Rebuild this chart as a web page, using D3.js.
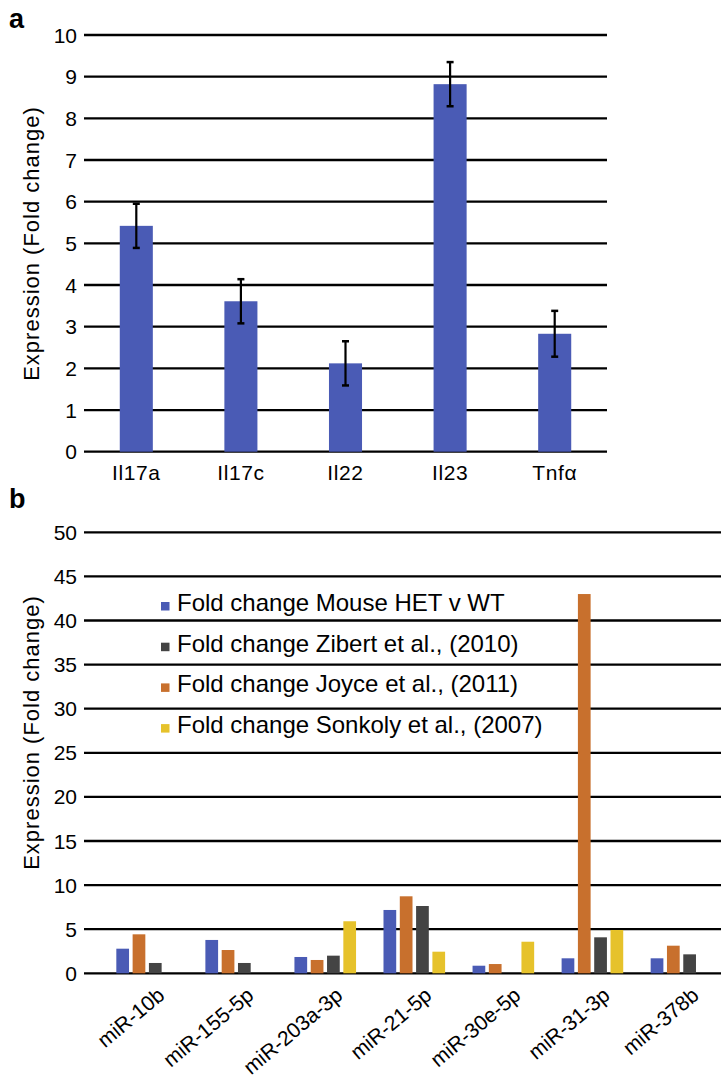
<!DOCTYPE html>
<html>
<head>
<meta charset="utf-8">
<script src="https://d3js.org/d3.v7.min.js"></script>
<style>
  body { margin: 0; background: #fff; }
  svg { font-family: "Liberation Sans", Arial, sans-serif; }
</style>
</head>
<body>
<svg id="fig" width="721" height="1081"></svg>
<script>
// panel a
var genes = ["Il17a", "Il17c", "Il22", "Il23", "Tnfα"]
var geneValues = [5.42, 3.61, 2.12, 8.82, 2.83]
var geneErrors = [0.53, 0.53, 0.53, 0.53, 0.55]
var aTicks = [0, 1, 2, 3, 4, 5, 6, 7, 8, 9, 10]

// panel b
var mirnas = ["miR-10b", "miR-155-5p", "miR-203a-3p", "miR-21-5p", "miR-30e-5p", "miR-31-3p", "miR-378b"]
var mouseHet = [2.79, 3.78, 1.85, 7.18, 0.86, 1.70, 1.70]
var joyce    = [4.42, 2.64, 1.51, 8.73, 1.05, 43.0, 3.13]
var zibert   = [1.17, 1.17, 2.00, 7.63, 0,    4.08, 2.15]
var sonkoly  = [0,    0,    5.90, 2.45, 3.58, 4.91, 0]
var bTicks = [0, 5, 10, 15, 20, 25, 30, 35, 40, 45, 50]

var seriesNames = ["Fold change Mouse HET v WT", "Fold change Joyce et al., (2011)", "Fold change Zibert et al., (2010)", "Fold change Sonkoly et al., (2007)"]
var seriesValues = [mouseHet, joyce, zibert, sonkoly]
var seriesColors = ["#4a5bb5", "#c8702d", "#444444", "#e6c22b"]
var legendOrder = [0, 2, 1, 3]

var svg = d3.select("#fig")

// ---------- panel a ----------
var ax = d3.scaleBand().domain(genes).range([84, 607]).paddingInner(0.684).paddingOuter(0.342)
var ay = d3.scaleLinear().domain([0, 10]).range([451.7, 35])

var ga = svg.append("g")
ga.selectAll(".grid").data(aTicks).enter().append("line")
  .attr("x1", 84).attr("x2", 607)
  .attr("y1", function(d) { return ay(d) }).attr("y2", function(d) { return ay(d) })
  .attr("stroke", "#000").attr("stroke-width", 2.3)

ga.selectAll(".tick").data(aTicks).enter().append("text")
  .attr("x", 77).attr("y", function(d) { return ay(d) })
  .attr("dy", "0.36em").attr("text-anchor", "end")
  .attr("font-size", 21).text(function(d) { return d })

ga.selectAll(".bar").data(genes).enter().append("rect")
  .attr("x", function(d) { return ax(d) })
  .attr("width", ax.bandwidth())
  .attr("y", function(d, i) { return ay(geneValues[i]) })
  .attr("height", function(d, i) { return ay(0) - ay(geneValues[i]) })
  .attr("fill", "#4a5bb5")

var err = ga.selectAll(".err").data(genes).enter().append("g")
err.append("line")
  .attr("x1", function(d) { return ax(d) + ax.bandwidth() / 2 })
  .attr("x2", function(d) { return ax(d) + ax.bandwidth() / 2 })
  .attr("y1", function(d, i) { return ay(geneValues[i] + geneErrors[i]) })
  .attr("y2", function(d, i) { return ay(geneValues[i] - geneErrors[i]) })
  .attr("stroke", "#000").attr("stroke-width", 2.2)
err.selectAll(".cap").data(function(d, i) { return [[d, geneValues[i] + geneErrors[i]], [d, geneValues[i] - geneErrors[i]]] })
  .enter().append("line")
  .attr("x1", function(c) { return ax(c[0]) + ax.bandwidth() / 2 - 3.5 })
  .attr("x2", function(c) { return ax(c[0]) + ax.bandwidth() / 2 + 3.5 })
  .attr("y1", function(c) { return ay(c[1]) }).attr("y2", function(c) { return ay(c[1]) })
  .attr("stroke", "#000").attr("stroke-width", 2.5)

ga.selectAll(".xlab").data(genes).enter().append("text")
  .attr("x", function(d) { return ax(d) + ax.bandwidth() / 2 })
  .attr("y", 480).attr("text-anchor", "middle")
  .attr("font-size", 21).attr("letter-spacing", 0.6).text(function(d) { return d })

ga.append("text").attr("transform", "translate(39,243.5) rotate(-90)")
  .attr("text-anchor", "middle").attr("font-size", 22).attr("letter-spacing", 1)
  .text("Expression (Fold change)")

svg.append("text").attr("x", 9).attr("y", 28).attr("font-size", 27).attr("font-weight", "bold").text("a")

// ---------- panel b ----------
var bx = d3.scaleBand().domain(mirnas).range([102.6, 726])
var bs = d3.scaleBand().domain(d3.range(4)).range([-32.6, 32.6]).paddingInner(0.22).paddingOuter(0.11)
var by = d3.scaleLinear().domain([0, 50]).range([973.3, 532.3])

var gb = svg.append("g")
gb.selectAll(".grid").data(bTicks).enter().append("line")
  .attr("x1", 84).attr("x2", 721)
  .attr("y1", function(d) { return by(d) }).attr("y2", function(d) { return by(d) })
  .attr("stroke", "#000").attr("stroke-width", 2.3)

gb.selectAll(".tick").data(bTicks).enter().append("text")
  .attr("x", 77).attr("y", function(d) { return by(d) })
  .attr("dy", "0.36em").attr("text-anchor", "end")
  .attr("font-size", 21).text(function(d) { return d })

seriesValues.forEach(function(vals, s) {
  gb.selectAll(".bar" + s).data(mirnas).enter().append("rect")
    .attr("x", function(d) { return bx(d) + bx.bandwidth() / 2 + bs(s) })
    .attr("width", bs.bandwidth())
    .attr("y", function(d, i) { return by(vals[i]) })
    .attr("height", function(d, i) { return by(0) - by(vals[i]) })
    .attr("fill", seriesColors[s])
})

gb.selectAll(".xlab").data(mirnas).enter().append("text")
  .attr("transform", function(d) { return "translate(" + (bx(d) + bx.bandwidth() / 2 + 9) + ",986) rotate(-40)" })
  .attr("text-anchor", "end").attr("dy", "0.72em")
  .attr("font-size", 21).text(function(d) { return d })

gb.append("text").attr("transform", "translate(39,732.5) rotate(-90)")
  .attr("text-anchor", "middle").attr("font-size", 22).attr("letter-spacing", 1)
  .text("Expression (Fold change)")

var leg = gb.selectAll(".leg").data(legendOrder).enter().append("g")
  .attr("transform", function(s, i) { return "translate(161," + (611 + i * 40.7) + ")" })
leg.append("rect").attr("x", 0).attr("y", -9).attr("width", 8.5).attr("height", 8.5)
  .attr("fill", function(s) { return seriesColors[s] })
leg.append("text").attr("x", 16).attr("y", 0).attr("font-size", 24)
  .text(function(s) { return seriesNames[s] })

svg.append("text").attr("x", 9).attr("y", 508).attr("font-size", 27).attr("font-weight", "bold").text("b")
</script>
</body>
</html>
